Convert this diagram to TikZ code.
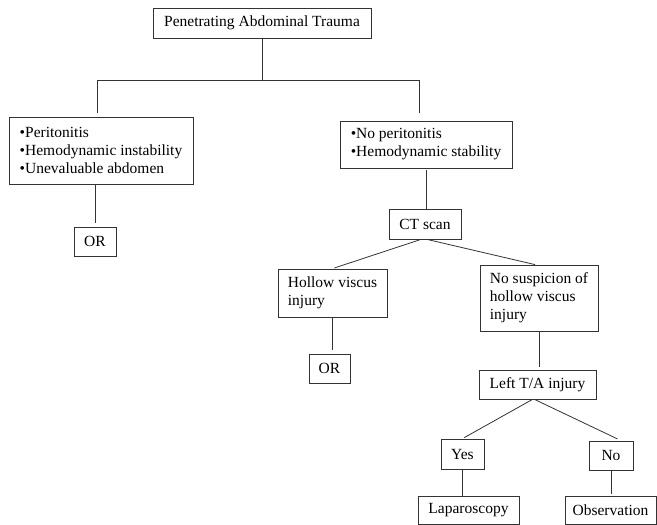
\documentclass[tikz,border=0pt]{standalone}
\usepackage{fontspec}
\setmainfont{Liberation Serif}
\usetikzlibrary{calc,positioning}

\begin{document}
\begin{tikzpicture}[x=1pt, y=-1pt]
		\tikzstyle{every node}=[font=\fontsize{15.5}{18}\selectfont]
		\tikzstyle{box}=[draw=black!80, line width=0.8pt, inner sep=0pt, align=left]
		\tikzstyle{link}=[line width=0.8pt, draw=black!80]
		\useasboundingbox (0,0) rectangle (657,525);
		\node [box, minimum width=218pt, minimum height=30pt] (trauma) at (262,23) {Penetrating Abdominal Trauma};
		\node [box, minimum width=184pt, minimum height=67pt] (unstable) at (101,150.5) {•Peritonitis\\•Hemodynamic instability\\•Unevaluable abdomen};
		\node [box, minimum width=172pt, minimum height=47pt] (stable) at (426,144.5) {•No peritonitis\\•Hemodynamic stability};
		\node [box, minimum width=42pt, minimum height=29pt] (orA) at (95,241.5) {OR};
		\node [box, minimum width=72pt, minimum height=30pt] (ct) at (425,224) {CT scan};
		\node [box, minimum width=109pt, minimum height=48pt] (hollow) at (332.5,293) {Hollow viscus\\injury};
		\node [box, minimum width=118pt, minimum height=66pt] (nohollow) at (539,298) {No suspicion of\\hollow viscus\\injury};
		\node [box, minimum width=41pt, minimum height=29pt] (orB) at (329.5,368.5) {OR};
		\node [box, minimum width=117pt, minimum height=29pt] (leftta) at (537.5,384.5) {Left T/A injury};
		\node [box, minimum width=43pt, minimum height=30pt] (yes) at (462.5,454) {Yes};
		\node [box, minimum width=44pt, minimum height=29pt] (no) at (611,455.5) {No};
		\node [box, minimum width=101pt, minimum height=28pt] (lap) at (468.5,510) {Laparoscopy};
		\node [box, minimum width=91pt, minimum height=28pt] (obs) at (610.5,510) {Observation};
		\coordinate (splitL) at (97,80);
		\coordinate (splitR) at (419,80);
		\draw [link] (trauma.south) -- (trauma.south |- splitL);
		\draw [link] (splitL) -- (splitR);
		\draw [link, shorten >=4pt] (splitL) -- (splitL |- unstable.north);
		\draw [link, shorten >=8pt] (splitR) -- (splitR |- stable.north);
		\draw [link, shorten <=1pt, shorten >=4pt] (orA.north |- unstable.south) -- (orA.north);
		\draw [link, shorten <=2pt] (stable.south) -- (stable.south |- ct.north);
		\draw [link, shorten >=2pt] ([xshift=-4pt]ct.south) -- (hollow.north);
		\draw [link] ([xshift=2pt]ct.south) -- ([xshift=-4pt]nohollow.north);
		\draw [link, shorten >=4pt] (hollow.south) -- (hollow.south |- orB.north);
		\draw [link, shorten >=3pt] (nohollow.south) -- (nohollow.south |- leftta.north);
		\draw [link, shorten >=2pt] ([xshift=-5pt]leftta.south) -- (yes.north);
		\draw [link, shorten >=4pt] ([xshift=-3pt]leftta.south) -- ([xshift=10pt]no.north);
		\draw [link] (yes.south) -- (yes.south |- lap.north);
		\draw [link, shorten >=2pt] (no.south) -- (no.south |- obs.north);
	\end{tikzpicture}
\end{document}
